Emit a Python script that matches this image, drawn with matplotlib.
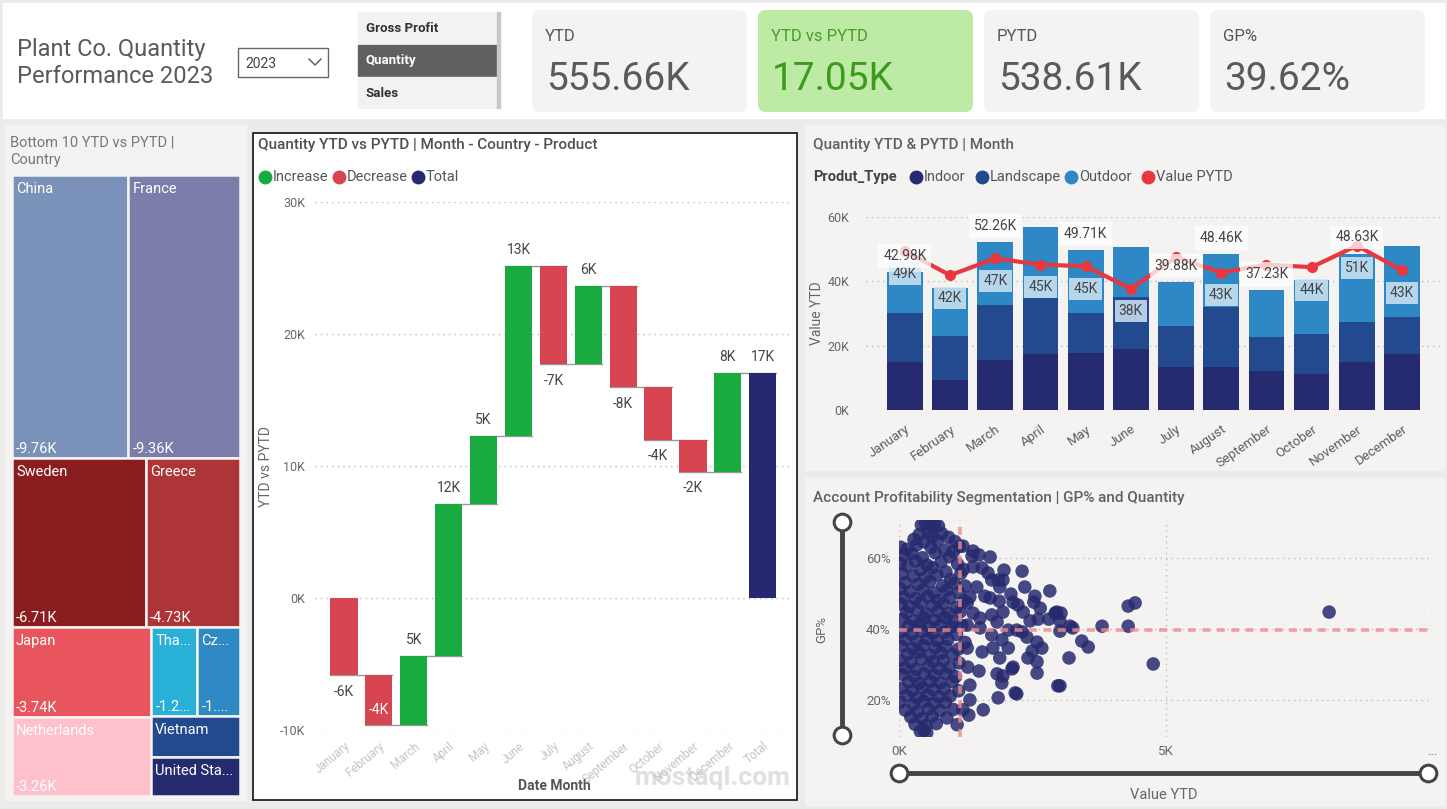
import matplotlib
matplotlib.use("Agg")
import matplotlib.pyplot as plt
from matplotlib.patches import Rectangle, FancyBboxPatch
import matplotlib.transforms as mtrans
import numpy as np

plt.rcParams['font.family'] = ['Roboto', 'DejaVu Sans']

W, H = 1447, 809

# ---------------- data ----------------
report_title = ["Plant Co. Quantity", "Performance 2023"]
year = "2023"
slicer_items = ["Gross Profit", "Quantity", "Sales"]
slicer_selected = "Quantity"

kpi_names = ["YTD", "YTD vs PYTD", "PYTD", "GP%"]
kpi_values = ["555.66K", "17.05K", "538.61K", "39.62%"]

countries = ["China", "France", "Sweden", "Greece", "Japan", "Netherlands",
             "Thailand", "Czech Republic", "Vietnam", "United States"]
country_delta = [-9.76, -9.36, -6.71, -4.73, -3.74, -3.26, -1.22, -1.13, -1.08, -1.03]  # K
country_colors = ["#7a91b9", "#7b7eab", "#8b1d20", "#ad3538", "#e8555c", "#fec0cb",
                  "#28b0d6", "#2f89c5", "#23498e", "#262a6f"]

months = ["January", "February", "March", "April", "May", "June", "July",
          "August", "September", "October", "November", "December"]
month_delta = [-5.87, -3.78, 5.27, 11.51, 5.14, 12.88, -7.45, 5.94, -7.68, -3.99, -2.42, 7.50]  # K

indoor = [14.8, 9.4, 15.4, 17.4, 17.6, 18.9, 13.5, 13.5, 12.2, 11.2, 15.0, 17.4]
landscape = [15.3, 13.6, 17.1, 17.4, 12.5, 16.2, 12.6, 18.5, 10.6, 12.4, 12.5, 11.5]
outdoor = [12.88, 14.9, 19.76, 22.0, 19.61, 15.6, 13.78, 16.46, 14.43, 16.8, 21.13, 22.0]
pytd = [49.4, 41.9, 47.1, 45.2, 44.7, 37.7, 47.5, 42.7, 45.2, 44.4, 51.1, 43.4]
ytd_label_months = ["January", "March", "May", "July", "August", "September", "November"]
pytd_label_months = ["January", "February", "March", "April", "May", "June",
                     "August", "October", "November", "December"]

# account scatter: quantity (K) vs GP%
dense_qty = [0.42, 0.50, 0.58, 0.66, 0.74, 0.55, 0.38, 0.80, 0.62, 0.28, 0.47, 0.72, 0.93, 1.05,
             0.03, 0.15, 0.33, 0.60, 0.86, 1.13, 0.08, 0.24, 0.44, 0.68, 0.95, 1.02, 0.02, 0.31,
             0.53, 0.79, 1.10, 0.16, 0.40, 0.63, 0.88, 1.21, 0.06, 0.27, 0.49, 0.71, 0.97, 1.16,
             0.12, 0.36, 0.58, 0.82, 1.04, 0.02, 0.21, 0.45, 0.66, 0.89, 1.12, 0.09, 0.31, 0.54,
             0.74, 0.96, 1.22, 0.04, 0.19, 0.41, 0.62, 0.83, 1.07, 0.14, 0.35, 0.51, 0.73, 0.93,
             1.15, 0.07, 0.28, 0.47, 0.67, 0.87, 1.03, 0.18, 0.39, 0.57, 0.78, 0.98, 1.18, 0.03,
             0.24, 0.43, 0.63, 0.85, 1.08, 0.12, 0.33, 0.53, 0.72, 0.92, 1.24, 0.05, 0.26, 0.46,
             0.68, 0.88, 1.11, 0.16, 0.37, 0.58, 0.79, 1.01, 0.02, 0.22, 0.42, 0.64, 0.83, 1.13,
             0.11, 0.32, 0.55, 0.75, 0.95, 0.07, 0.28, 0.47, 0.66, 0.88, 1.06, 0.18, 0.38, 0.59,
             0.78, 1.00, 0.04, 0.25, 0.44, 0.64, 0.85, 1.12, 0.14, 0.34, 0.54, 0.75, 0.96, 0.02,
             0.27, 0.46, 0.66, 0.87, 0.12, 0.35, 0.55, 0.77, 1.02, 0.22, 0.43, 0.62, 0.90, 0.30,
             0.51, 0.70, 1.09, 0.40, 0.52, 0.47]
dense_gp = [69.5, 70.0, 69.3, 69.8, 69.2, 67.6, 66.8, 67.1, 66.2, 65.4, 64.7, 65.0, 66.0, 64.8,
            63.2, 62.6, 63.8, 63.1, 62.4, 63.4, 60.9, 61.4, 60.2, 61.6, 60.5, 61.9, 58.6, 59.3,
            58.1, 59.0, 58.4, 57.9, 56.8, 57.4, 56.2, 56.9, 55.6, 55.0, 54.6, 55.3, 54.0, 55.8,
            53.1, 52.7, 53.5, 52.2, 52.9, 51.4, 50.6, 51.1, 50.3, 51.0, 50.4, 49.0, 48.6, 49.3,
            48.2, 48.9, 48.0, 47.1, 46.4, 47.5, 46.6, 47.2, 46.1, 44.7, 45.2, 44.3, 45.0, 44.4,
            44.9, 42.8, 42.3, 43.1, 42.5, 43.3, 42.0, 40.9, 41.4, 40.5, 41.2, 40.6, 41.0, 39.2,
            38.6, 39.4, 38.8, 39.1, 38.5, 37.0, 36.5, 37.3, 36.7, 37.1, 36.2, 35.1, 34.4, 35.3,
            34.8, 35.0, 34.3, 32.9, 33.4, 32.6, 33.2, 32.7, 31.2, 30.6, 31.4, 30.8, 31.1, 30.4,
            29.0, 28.6, 29.3, 28.8, 29.1, 27.1, 26.6, 27.3, 26.9, 27.4, 26.5, 25.0, 24.6, 25.2,
            24.7, 25.1, 23.2, 22.6, 23.4, 22.9, 23.0, 22.5, 21.1, 20.5, 21.3, 20.8, 21.0, 19.3,
            18.7, 19.5, 18.9, 19.2, 17.0, 16.6, 17.3, 16.9, 17.2, 15.1, 14.6, 15.3, 14.8, 13.0,
            12.6, 13.2, 12.9, 11.0, 10.6, 11.3]
acct_qty = [1.20, 1.39, 1.37, 1.50, 1.71, 1.39, 1.56, 1.97, 2.31, 1.67, 1.74, 1.86, 1.95,
            1.89, 2.36, 2.83, 1.46, 1.24, 2.10, 2.55, 1.61, 1.71, 1.88, 2.14, 2.23, 2.53,
            1.33, 1.28, 2.65, 2.33, 2.93, 1.39, 1.95, 2.46, 2.61, 2.81, 1.52, 1.74, 1.84,
            2.05, 2.21, 2.40, 2.31, 1.28, 1.52, 1.74, 1.93, 2.59, 2.68, 2.50, 2.05, 1.76,
            1.56, 1.28, 2.42, 2.59, 1.89, 2.14, 2.12, 1.84, 1.95, 2.59, 1.50, 1.29, 1.93,
            1.33, 2.18, 2.21, 1.86, 1.33, 1.58, 1.31, 2.98, 1.20, 2.96,
            2.95, 3.04, 3.02, 3.02, 3.21, 3.26, 3.81, 4.30, 4.43, 4.30, 3.43, 3.55, 3.19,
            3.02, 4.77, 8.07]
acct_gp = [63.5, 62.1, 60.7, 61.0, 60.4, 57.6, 57.3, 56.7, 56.4, 55.9, 53.9, 53.9, 53.9,
           51.9, 51.9, 50.8, 51.9, 52.2, 49.9, 49.3, 49.3, 48.8, 47.9, 47.6, 46.8, 47.6,
           49.1, 47.4, 45.9, 44.8, 44.5, 44.5, 44.8, 42.3, 42.8, 42.8, 43.1, 44.0, 42.0,
           39.7, 39.7, 37.7, 39.2, 41.1, 40.3, 38.3, 36.9, 36.3, 34.6, 33.8, 34.6, 34.6,
           33.5, 34.6, 31.8, 30.7, 31.8, 29.2, 28.7, 27.3, 26.7, 27.5, 28.1, 29.2, 24.7,
           24.1, 21.9, 21.6, 20.5, 19.9, 17.1, 15.6, 23.9, 17.1, 44.8,
           44.5, 44.5, 42.3, 39.4, 40.8, 40.3, 40.8, 46.5, 47.4, 40.8, 36.6, 34.9, 31.8,
           23.9, 30.1, 44.8]
avg_qty = 1.14   # K
avg_gp = 39.62   # %

GREY_TXT = "#5a5a5a"
PANEL = "#f4f3f2"


def px_rect(x0, y0, x1, y1):
    return [x0 / W, 1 - y1 / H, (x1 - x0) / W, (y1 - y0) / H]


fig = plt.figure(figsize=(W / 100, H / 100), dpi=100)
fig.patch.set_facecolor("#ebebeb")
bg = fig.add_axes([0, 0, 1, 1])
bg.set_xlim(0, W)
bg.set_ylim(H, 0)
bg.axis("off")

# panels
bg.add_patch(Rectangle((3, 3), 1441, 115, color="white"))
bg.add_patch(Rectangle((5, 125), 241, 675, color=PANEL))
bg.add_patch(Rectangle((253, 133), 544, 667, facecolor="white", edgecolor="#111", lw=1.2))
bg.add_patch(Rectangle((805, 125), 639, 345, color=PANEL))
bg.add_patch(Rectangle((805, 478), 639, 327, color=PANEL))

# ---------------- header ----------------
bg.text(17, 49, report_title[0], fontsize=17, color=GREY_TXT, va="center")
bg.text(17, 76, report_title[1], fontsize=17, color=GREY_TXT, va="center")
bg.add_patch(Rectangle((238, 48), 90, 29, facecolor="white", edgecolor="#666", lw=1))
bg.text(245, 64, year, fontsize=10, color="#444", va="center")
bg.plot([309, 315, 321], [59, 65, 59], color="#555", lw=1)

for i, item in enumerate(slicer_items):
    y0 = 12 + i * 32.5
    sel = item == slicer_selected
    bg.add_patch(Rectangle((358, y0), 140, 31, color="#606060" if sel else "#f2f2f2"))
    bg.text(366, y0 + 16, item, fontsize=9.5, fontweight="bold",
            color="white" if sel else "#333", va="center")
bg.add_patch(Rectangle((497, 12), 3, 96, color="#c8c8c8"))

for i, (name, val) in enumerate(zip(kpi_names, kpi_values)):
    x0 = 532 + i * 226
    green = name == "YTD vs PYTD"
    bg.add_patch(FancyBboxPatch((x0, 10), 215, 102, boxstyle="round,pad=0,rounding_size=8",
                                facecolor="#bdeba5" if green else "#f3f3f3", edgecolor="none"))
    bg.text(x0 + 13, 36, name, fontsize=12, color="#4c9a2a" if green else "#555", va="center")
    bg.text(x0 + 14, 79, val, fontsize=28, color="#3d9a1f" if green else GREY_TXT, va="center")

# ---------------- treemap ----------------
bg.text(10, 142, "Bottom 10 YTD vs PYTD |", fontsize=10.5, color="#777", va="center")
bg.text(10, 160, "Country", fontsize=10.5, color="#777", va="center")
tm = fig.add_axes(px_rect(12, 175, 240, 796))
tm.set_xlim(0, 1)
tm.set_ylim(1, 0)
tm.axis("off")
a = [abs(v) for v in country_delta]
tot = sum(a)
rects = {}
y = 0
for grp in [[0, 1], [2, 3]]:
    s = sum(a[i] for i in grp)
    hh = s / tot
    x = 0
    for i in grp:
        rects[i] = (x, y, a[i] / s, hh)
        x += a[i] / s
    y += hh
rest_h = 1 - y
lw_ = sum(a[4:6]) / sum(a[4:])
yy = y
for i in [4, 5]:
    hh = a[i] / sum(a[4:6]) * rest_h
    rects[i] = (0, yy, lw_, hh)
    yy += hh
s_r = sum(a[6:])
rw = 1 - lw_
top_h = (a[6] + a[7]) / s_r * rest_h
f6 = a[6] / (a[6] + a[7])
rects[6] = (lw_, y, rw * f6, top_h)
rects[7] = (lw_ + rw * f6, y, rw * (1 - f6), top_h)
yy = y + top_h
for i in [8, 9]:
    hh = a[i] / s_r * rest_h
    rects[i] = (lw_, yy, rw, hh)
    yy += hh

renderer = fig.canvas.get_renderer()


def fit_text(t, full, avail):
    t.set_text(full)
    if t.get_window_extent(renderer).width <= avail:
        return
    n = len(full)
    while n > 1:
        n -= 1
        t.set_text(full[:n] + "...")
        if t.get_window_extent(renderer).width <= avail:
            return


for i, name in enumerate(countries):
    x, y, w, h = rects[i]
    tm.add_patch(Rectangle((x, y), w, h, facecolor=country_colors[i], edgecolor=PANEL, lw=1.8))
    wpx = w * 228
    hpx = h * 621
    t = tm.text(x, y, name, fontsize=10.5, color="white", va="top", ha="left")
    t.set_transform(tm.transData + mtrans.ScaledTranslation(4 / 100, -7 / 100, fig.dpi_scale_trans))
    fit_text(t, name, wpx - 8)
    if hpx > 60:
        t2 = tm.text(x, y + h, f"{country_delta[i]:.2f}K", fontsize=10.5, color="white",
                     va="bottom", ha="left")
        t2.set_transform(tm.transData + mtrans.ScaledTranslation(4 / 100, 2 / 100, fig.dpi_scale_trans))
        fit_text(t2, f"{country_delta[i]:.2f}K", wpx - 8)

# ---------------- waterfall ----------------
bg.text(258, 145, "Quantity YTD vs PYTD | Month - Country - Product", fontsize=11,
        color="#505050", va="center", fontweight="medium")
for x, lab, c in [(265, "Increase", "#1aab40"), (339, "Decrease", "#d64550"), (418, "Total", "#262872")]:
    bg.plot(x, 177, "o", ms=9, color=c)
    bg.text(x + 8, 177, lab, fontsize=10.5, color="#555", va="center")

wf = fig.add_axes(px_rect(315, 202, 790, 730))
wf.set_facecolor("none")
deltas = np.array(month_delta) * 1000
ends = np.cumsum(deltas)
starts = ends - deltas
total = ends[-1]
bw = 0.78
for i, d in enumerate(deltas):
    col = "#1aab40" if d > 0 else "#d64550"
    wf.bar(i, abs(d), bottom=min(starts[i], ends[i]), width=bw, color=col, zorder=3)
    wf.plot([i - bw / 2, i + 1 + bw / 2], [ends[i], ends[i]], color="#9a9a9a", lw=1, zorder=2)
    lab = f"{round(d / 1000):.0f}K"
    if d > 0:
        wf.text(i, ends[i] + 700, lab, ha="center", va="bottom", fontsize=10, color="#444")
    elif ends[i] - 1500 < -10000:
        wf.text(i, ends[i] + 1200, lab, ha="center", va="center", fontsize=10, color="white", zorder=4)
    else:
        wf.text(i, ends[i] - 700, lab, ha="center", va="top", fontsize=10, color="#444")
n = len(deltas)
wf.bar(n, total, width=bw, color="#262872", zorder=3)
wf.text(n, total + 700, f"{round(total / 1000):.0f}K", ha="center", va="bottom", fontsize=10, color="#444")
wf.set_xlim(-0.83, 12.78)
wf.set_ylim(-10000, 30000)
wf.set_yticks(range(-10000, 30001, 10000))
wf.set_yticklabels([f"{v // 1000}K" for v in range(-10000, 30001, 10000)], fontsize=9, color="#666")
wf.set_xticks(range(n + 1))
wf.set_xticklabels(months + ["Total"], rotation=40, ha="right", rotation_mode="anchor",
                   fontsize=8.5, color="#c4c4c4")
wf.tick_params(length=0, pad=7)
wf.grid(axis="y", ls=(0, (1, 3)), color="#bbb", lw=1, zorder=0)
for s in wf.spines.values():
    s.set_visible(False)
bg.text(554, 786, "Date Month", fontsize=10, fontweight="bold", color="#555", ha="center", va="center")
bg.text(266, 466, "YTD vs PYTD", fontsize=10, color="#666", rotation=90, ha="center", va="center")

# ---------------- combo chart ----------------
bg.text(813, 145, "Quantity YTD & PYTD | Month", fontsize=11, color="#606060", va="center",
        fontweight="medium")
bg.text(813, 177, "Produt_Type", fontsize=10.5, fontweight="bold", color="#444", va="center")
for x, lab, c in [(916, "Indoor", "#262a6e"), (982, "Landscape", "#234a8e"),
                  (1071, "Outdoor", "#2d88c5"), (1148, "Value PYTD", "#e8383d")]:
    bg.plot(x, 177, "o", ms=9, color=c)
    bg.text(x + 8, 177, lab, fontsize=10.5, color="#555", va="center")

cb = fig.add_axes(px_rect(866, 217, 1440, 410))
cb.set_facecolor("none")
xs = np.arange(len(months))
ind = np.array(indoor) * 1000
lan = np.array(landscape) * 1000
out = np.array(outdoor) * 1000
tot_ytd = ind + lan + out
bwc = 0.79
cb.bar(xs, ind, width=bwc, color="#262a6e", zorder=2)
cb.bar(xs, lan, bottom=ind, width=bwc, color="#234a8e", zorder=2)
cb.bar(xs, out, bottom=ind + lan, width=bwc, color="#2d88c5", zorder=2)
py = np.array(pytd) * 1000
cb.plot(xs, py, color="#e8383d", lw=3, marker="o", ms=7, zorder=3)
for i, m in enumerate(months):
    if m in pytd_label_months:
        cb.text(i, py[i] - 7000, f"{round(pytd[i])}K", ha="center", va="center", fontsize=10,
                color="#444", zorder=4,
                bbox=dict(boxstyle="square,pad=0.3", fc="#cfe4f3", ec="none", alpha=0.85))
    if m in ytd_label_months:
        cb.text(i, tot_ytd[i] + 5000, f"{tot_ytd[i] / 1000:.2f}K", ha="center", va="center",
                fontsize=10, color="#444", zorder=4,
                bbox=dict(boxstyle="square,pad=0.35", fc="white", ec="none", alpha=0.75))
cb.set_xlim(-0.86, 11.84)
cb.set_ylim(0, 60000)
cb.set_yticks([0, 20000, 40000, 60000])
cb.set_yticklabels(["0K", "20K", "40K", "60K"], fontsize=9, color="#666")
cb.set_xticks(xs)
cb.set_xticklabels(months, rotation=35, ha="right", rotation_mode="anchor", fontsize=9.5,
                   color="#605e5c")
cb.tick_params(length=0, pad=9)
cb.tick_params(axis="y", pad=12)
cb.grid(axis="y", ls=(0, (1, 3)), color="#bbb", lw=1, zorder=0)
for s in cb.spines.values():
    s.set_visible(False)
bg.text(817, 313, "Value YTD", fontsize=10, color="#666", rotation=90, ha="center", va="center")

# ---------------- scatter ----------------
bg.text(813, 498, "Account Profitability Segmentation | GP% and Quantity", fontsize=11,
        color="#606060", va="center", fontweight="medium")
sc = fig.add_axes(px_rect(899, 520, 1432, 737))
sc.set_facecolor("none")
qx = np.array(dense_qty + acct_qty) * 1000
gy = dense_gp + acct_gp
sc.scatter(qx, gy, s=95, color="#262a6e", alpha=0.85, edgecolors="none", zorder=2)
sc.axhline(avg_gp, color="#f28b8b", ls=(0, (2.2, 1.8)), lw=2.6, alpha=0.8, zorder=3)
sc.axvline(avg_qty * 1000, color="#f28b8b", ls=(0, (2.2, 1.8)), lw=2.6, alpha=0.8, zorder=3)
sc.set_xlim(0, 10000)
sc.set_ylim(9.4, 70.9)
sc.set_yticks([20, 40, 60])
sc.set_yticklabels(["20%", "40%", "60%"], fontsize=9.5, color="#666")
sc.set_xticks([0, 5000, 10000])
sc.set_xticklabels(["0K", "5K", "..."], fontsize=9.5, color="#666")
sc.tick_params(length=0, pad=6)
sc.grid(True, ls=(0, (1, 3)), color="#bbb", lw=1, zorder=0)
for s in sc.spines.values():
    s.set_visible(False)
bg.text(822, 629, "GP%", fontsize=9.5, color="#666", rotation=90, ha="center", va="center")
bg.text(1164, 795, "Value YTD", fontsize=10.5, color="#666", ha="center", va="center")
# range sliders
bg.plot([842, 842], [522, 735], color="#444", lw=3.5, solid_capstyle="round")
bg.plot([899, 1428], [773, 773], color="#444", lw=3.5, solid_capstyle="round")
for cx, cy in [(842, 522), (842, 735), (899, 773), (1428, 773)]:
    bg.plot(cx, cy, "o", ms=12, mfc="white", mec="#444", mew=2.2)

bg.text(713, 778, "mostaql.com", fontsize=19, color="#d9d9d9", ha="center", va="center",
        fontweight="bold", alpha=0.8)

fig.savefig("out.png", dpi=100, facecolor=fig.get_facecolor())
